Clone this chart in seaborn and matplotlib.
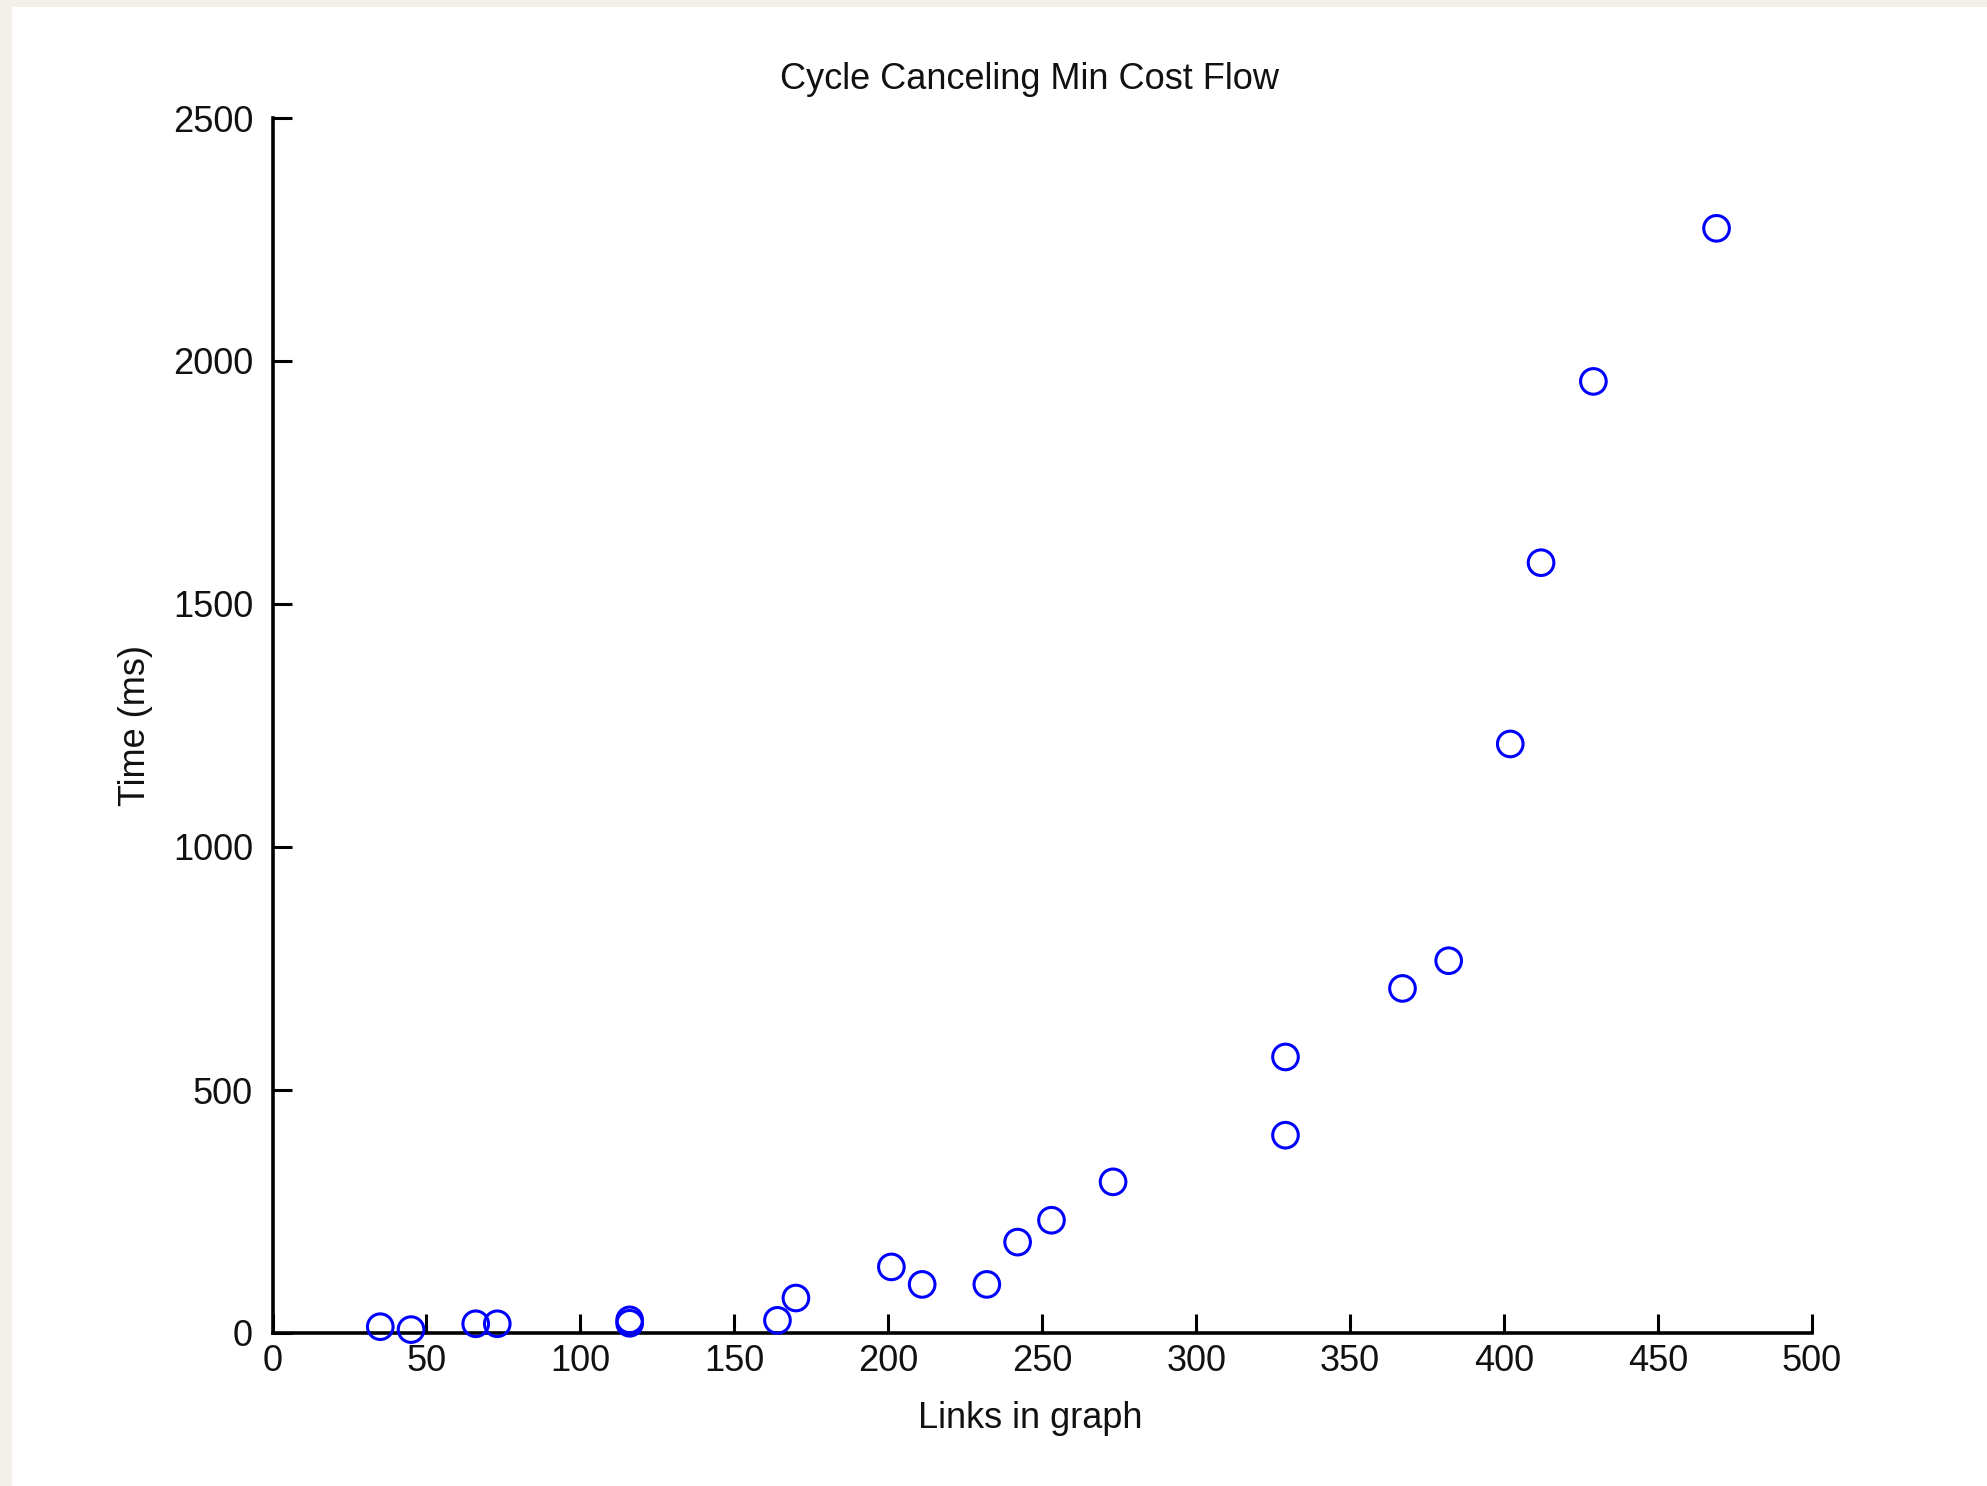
import matplotlib
matplotlib.use("Agg")
import matplotlib.pyplot as plt
import matplotlib.patches as mpatches
import numpy as np
import pandas as pd
import seaborn as sns

# Measured run times of the cycle-canceling min cost flow solver
links = [35, 45, 66, 73, 116, 116, 164, 170, 201, 211, 232, 242, 253, 273,
         329, 329, 367, 382, 402, 412, 429, 469]
time_ms = [13, 7, 19, 19, 20, 27, 26, 72, 136, 100, 100, 187, 232, 311,
           407, 568, 709, 766, 1212, 1585, 1958, 2273]

x_ticks = [0, 50, 100, 150, 200, 250, 300, 350, 400, 450, 500]
y_ticks = [0, 500, 1000, 1500, 2000, 2500]

df = pd.DataFrame({"links": links, "time": time_ms})

sns.set_theme(style="ticks")
plt.rcParams["font.family"] = ["Liberation Sans", "DejaVu Sans"]

W, H, DPI = 1987, 1486, 100
fig = plt.figure(figsize=(W / DPI, H / DPI), dpi=DPI)
fig.patch.set_facecolor("#f3f0e9")
# white page area inside the beige frame
fig.patches.append(mpatches.Rectangle((12 / W, 0), 1 - 12 / W, 1 - 7 / H,
                                      transform=fig.transFigure,
                                      facecolor="white", edgecolor="none",
                                      zorder=-10))

ax = fig.add_axes([272.5 / W, 1 - 1333 / H, (1812 - 272.5) / W, (1333 - 118) / H])
ax.set_zorder(5)
ax.set_facecolor("none")

sns.scatterplot(data=df, x="links", y="time", ax=ax, marker="o", s=340,
                facecolors="none", edgecolor="#0000ff", linewidth=2.2,
                legend=False, zorder=3, clip_on=False)

ax.set_xlim(0, 500)
ax.set_ylim(0, 2500)
ax.set_xticks(x_ticks)
ax.set_yticks(y_ticks)
ax.set_xticklabels([str(v) for v in x_ticks])
ax.set_yticklabels([str(v) for v in y_ticks])

for side in ("top", "right"):
    ax.spines[side].set_visible(False)
for side in ("left", "bottom"):
    ax.spines[side].set_linewidth(2.6)
    ax.spines[side].set_color("black")

ax.tick_params(axis="both", direction="in", length=14, width=2.2,
               color="black", labelsize=26, labelcolor="#111111")
ax.tick_params(axis="x", pad=8)
ax.tick_params(axis="y", pad=14)

ax.set_title("Cycle Canceling Min Cost Flow", fontsize=26, pad=21,
             color="#111111", x=0.492)
ax.set_xlabel("Links in graph", fontsize=26, labelpad=16, color="#111111")
ax.xaxis.label.set_x(0.492)
ax.set_ylabel("Time (ms)", fontsize=26, labelpad=14, color="#111111")

fig.savefig("out.png", dpi=DPI, facecolor=fig.get_facecolor())
